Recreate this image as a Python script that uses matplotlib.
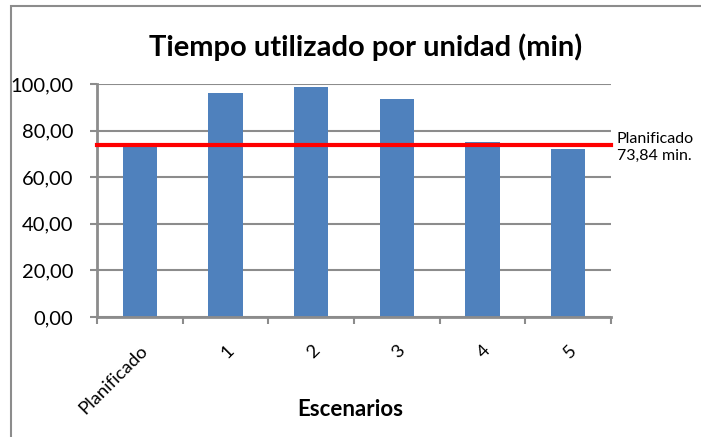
import matplotlib

matplotlib.use("Agg")
import matplotlib.pyplot as plt  # noqa: E402
from matplotlib.patches import Rectangle  # noqa: E402
from matplotlib.ticker import FuncFormatter, FixedLocator  # noqa: E402

# tiempo por unidad en cada escenario (min)
ESCENARIOS = ["Planificado", "1", "2", "3", "4", "5"]
TIEMPOS = [73.84, 96.0, 98.6, 93.4, 75.2, 72.0]
PLANIFICADO = 73.84

BAR_COLOR = "#4f81bd"
GRID_COLOR = "#8c8c8c"

plt.rcParams["font.family"] = ["Lato", "DejaVu Sans"]

fig = plt.figure(figsize=(7.01, 4.37), dpi=100)
ax = fig.add_axes([97 / 701, 1 - 317 / 437, 514 / 701, 233 / 437])

x = list(range(len(ESCENARIOS)))
ax.bar(x, TIEMPOS, width=0.4, color=BAR_COLOR, zorder=2)

# linea de referencia del tiempo planificado
ax.axhline(PLANIFICADO, color="#ff0000", lw=3, zorder=3, clip_on=False)
ax.text(
    5.57, PLANIFICADO - 1.0,
    f"Planificado\n{PLANIFICADO:.2f}".replace(".", ",") + " min.",
    fontsize=11.5, va="center", ha="left", linespacing=1.3,
)

ax.set_xlim(-0.5, len(ESCENARIOS) - 0.5)
ax.set_ylim(0, 100)
ax.yaxis.set_major_locator(FixedLocator([0, 20, 40, 60, 80, 100]))
ax.yaxis.set_major_formatter(FuncFormatter(lambda v, _: f"{v:.2f}".replace(".", ",")))
ax.grid(axis="y", color=GRID_COLOR, lw=1.5, zorder=0)

ax.set_xticks(x)
ax.set_xticklabels(ESCENARIOS, rotation=45, ha="right", rotation_mode="anchor")
ax.tick_params(axis="x", which="major", length=0, pad=18, labelsize=13.3)
ax.set_xticks([i - 0.5 for i in range(len(ESCENARIOS) + 1)], minor=True)
ax.tick_params(axis="x", which="minor", length=5, width=1.5, color=GRID_COLOR, direction="out")
ax.tick_params(axis="y", length=5, width=1.5, color=GRID_COLOR, labelsize=14.5, pad=12)

for side in ("top", "right"):
    ax.spines[side].set_visible(False)
for side in ("left", "bottom"):
    ax.spines[side].set_color(GRID_COLOR)
    ax.spines[side].set_linewidth(2)

fig.text(366 / 701, 1 - 47 / 437, "Tiempo utilizado por unidad (min)",
         fontsize=21, fontweight="bold", ha="center", va="center")
fig.text(350 / 701, 1 - 410 / 437, "Escenarios",
         fontsize=16, fontweight="bold", ha="center", va="center")

# marco exterior del grafico
fig.patches.append(Rectangle((11 / 701, -0.1), 1.1, 1 - 6 / 437 + 0.1,
                             transform=fig.transFigure, fill=False,
                             edgecolor=GRID_COLOR, lw=1.5))

fig.savefig("out.png", dpi=100)
